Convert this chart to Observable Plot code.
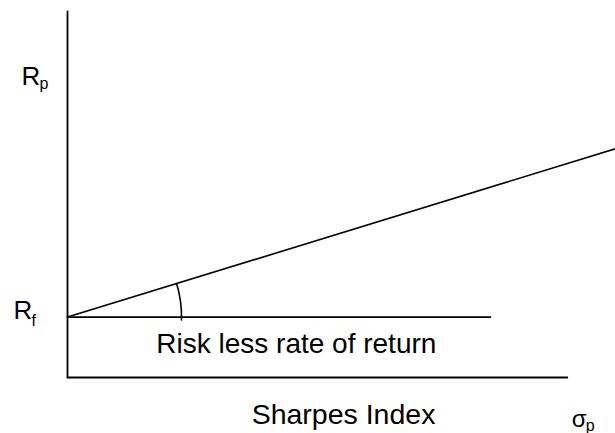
<!DOCTYPE html>
<html>
<head>
<meta charset="utf-8">
<script src="https://cdn.jsdelivr.net/npm/d3@7"></script>
<script src="https://cdn.jsdelivr.net/npm/@observablehq/plot@0.6"></script>
<style>
  html, body { margin: 0; padding: 0; background: #fff; }
  #chart svg { display: block; }
</style>
</head>
<body>
<div id="chart"></div>
<script>
// ---- data (abstract units: sigma on x, return on y) ----
const riskFree = 1.65;                 // R_f level
const cmlSigma = [0, 10];              // capital market line, sigma
const cmlReturn = [1.65, 6.25];        // capital market line, return
const xAxisSigma = [0, 9.12];          // extent of horizontal axis
const yAxisReturn = [0, 10];           // extent of vertical axis
const rfLineSigma = [0, 7.72];         // extent of risk-free line
const rpLevel = 8;                     // where R_p label sits
const arcRadiusSigma = 2.09;           // angle marker radius (in sigma units)

// labels
const labelRp = ["R", "p"];
const labelRf = ["R", "f"];
const labelSigma = ["σ", "p"];
const labelRiskless = "Risk less rate of return";
const labelSharpe = "Sharpes Index";

// ---- tables built from the arrays ----
const cml = cmlSigma.map((s, i) => ({sigma: s, ret: cmlReturn[i]}));
const xAxisLine = xAxisSigma.map(s => ({sigma: s, ret: 0}));
const yAxisLine = yAxisReturn.map(r => ({sigma: 0, ret: r}));
const rfLine = rfLineSigma.map(s => ({sigma: s, ret: riskFree}));

const font = "Liberation Sans, Arial, Helvetica, sans-serif";

// angle marker drawn through the scales
function angleArc(index, scales) {
  const cx = scales.x(0), cy = scales.y(riskFree);
  const r = scales.x(arcRadiusSigma) - scales.x(0);
  const ex = scales.x(cmlSigma[1]) - cx, ey = scales.y(cmlReturn[1]) - cy;
  const a1 = Math.atan2(ey, ex);      // angle of the CML (negative, upward)
  const a0 = Math.asin(4 / r);        // slightly below the horizontal line
  const p0 = [cx + r * Math.cos(a0), cy + r * Math.sin(a0)];
  const p1 = [cx + r * Math.cos(a1), cy + r * Math.sin(a1)];
  const path = document.createElementNS("http://www.w3.org/2000/svg", "path");
  path.setAttribute("d", `M${p0[0]},${p0[1]}A${r},${r} 0 0 0 ${p1[0]},${p1[1]}`);
  path.setAttribute("fill", "none");
  path.setAttribute("stroke", "black");
  path.setAttribute("stroke-width", "1.6");
  return path;
}

const chart = Plot.plot({
  width: 615,
  height: 433,
  marginLeft: 67,
  marginRight: 0,
  marginTop: 11,
  marginBottom: 56,
  x: {domain: [0, 10], axis: null},
  y: {domain: [0, 10], axis: null},
  style: {fontFamily: font, background: "white"},
  marks: [
    Plot.line(yAxisLine, {x: "sigma", y: "ret", stroke: "black", strokeWidth: 1.8}),
    Plot.line(xAxisLine, {x: "sigma", y: "ret", stroke: "black", strokeWidth: 1.8}),
    Plot.line(rfLine, {x: "sigma", y: "ret", stroke: "black", strokeWidth: 1.6}),
    Plot.line(cml, {x: "sigma", y: "ret", stroke: "black", strokeWidth: 1.6}),
    angleArc,
    // R_p
    Plot.text([labelRp[0]], {x: 0, y: rpLevel, text: d => d, textAnchor: "start", lineAnchor: "bottom", dx: -46, dy: 0, fontSize: 26, fill: "black"}),
    Plot.text([labelRp[1]], {x: 0, y: rpLevel, text: d => d, textAnchor: "start", lineAnchor: "bottom", dx: -28, dy: 4, fontSize: 16, fill: "black"}),
    // R_f
    Plot.text([labelRf[0]], {x: 0, y: riskFree, text: d => d, textAnchor: "start", lineAnchor: "bottom", dx: -54, dy: 2, fontSize: 26, fill: "black"}),
    Plot.text([labelRf[1]], {x: 0, y: riskFree, text: d => d, textAnchor: "start", lineAnchor: "bottom", dx: -36, dy: 9, fontSize: 16, fill: "black"}),
    // risk-free caption
    Plot.text([labelRiskless], {x: 1.62, y: riskFree, text: d => d, textAnchor: "start", lineAnchor: "bottom", dy: 36, fontSize: 28, fill: "black"}),
    // x axis labels
    Plot.text([labelSharpe], {x: 3.36, y: 0, text: d => d, textAnchor: "start", lineAnchor: "bottom", dy: 46, fontSize: 28.5, fill: "black"}),
    Plot.text([labelSigma[0]], {x: 9.2, y: 0, text: d => d, textAnchor: "start", lineAnchor: "bottom", dy: 49, fontSize: 24, fill: "black"}),
    Plot.text([labelSigma[1]], {x: 9.2, y: 0, text: d => d, textAnchor: "start", lineAnchor: "bottom", dx: 14, dy: 53, fontSize: 16, fill: "black"})
  ]
});
document.getElementById("chart").appendChild(chart);
</script>
</body>
</html>
